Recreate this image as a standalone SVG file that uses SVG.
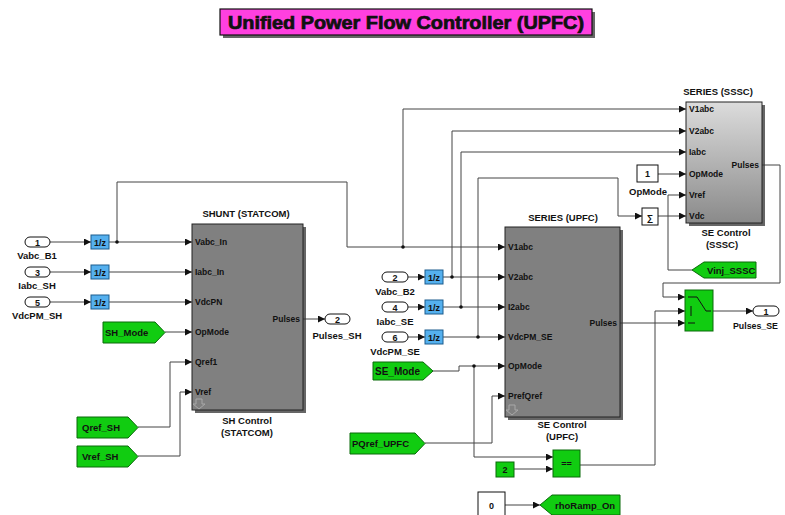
<svg xmlns="http://www.w3.org/2000/svg" width="785" height="515" viewBox="0 0 785 515">
<style>
text{font-family:"Liberation Sans",Arial,sans-serif;font-weight:bold;fill:#111}
.w{fill:none;stroke:#444;stroke-width:1}
.lbl{font-size:9.5px;text-anchor:middle}
.port{font-size:8.5px}
.z{fill:#55b0ee;stroke:#1d5d8d;stroke-width:1}
.g{fill:#11cc11;stroke:#0a6a0a;stroke-width:1}
.ov{fill:#fff;stroke:#111;stroke-width:1}
.blk{fill:#808080;stroke:#222;stroke-width:1}
.sh{fill:#333;opacity:.75}
.c{text-anchor:middle;font-size:9px}
</style>
<defs>
<marker id="a" viewBox="0 0 8 8" refX="8" refY="4" markerWidth="7" markerHeight="7" markerUnits="userSpaceOnUse" orient="auto"><path d="M0,0L8,4L0,8z" fill="#111"/></marker>
<linearGradient id="gr" x1="0" y1="0" x2="0" y2="1"><stop offset="0" stop-color="#dcdcdc"/><stop offset="1" stop-color="#8a8a8a"/></linearGradient>
</defs>

<g id="title">
<rect x="223" y="12" width="372" height="26" class="sh"/>
<rect x="220" y="9" width="372" height="26" fill="#ff40e0" stroke="#111" stroke-width="1.2"/>
<text x="406" y="28.5" text-anchor="middle" font-size="18" textLength="356" lengthAdjust="spacingAndGlyphs" stroke="#111" stroke-width="0.7">Unified Power Flow Controller (UPFC)</text>
</g>

<g id="connectors">
<path class="w" marker-end="url(#a)" d="M50,242H91"/>
<path class="w" marker-end="url(#a)" d="M50,272H91"/>
<path class="w" marker-end="url(#a)" d="M50,302H91"/>
<path class="w" marker-end="url(#a)" d="M109,242H192"/>
<path class="w" marker-end="url(#a)" d="M109,272H192"/>
<path class="w" marker-end="url(#a)" d="M109,302H192"/>
<path class="w" marker-end="url(#a)" d="M165,332H192"/>
<path class="w" marker-end="url(#a)" d="M138,427H170V362H192"/>
<path class="w" marker-end="url(#a)" d="M138,456H180V392H192"/>
<path class="w" marker-end="url(#a)" d="M117,242V182H347V247H505"/>
<path class="w" marker-end="url(#a)" d="M403,247V109H686"/>
<path class="w" marker-end="url(#a)" d="M303,319H325"/>
<path class="w" marker-end="url(#a)" d="M408,277H425"/>
<path class="w" marker-end="url(#a)" d="M408,307H425"/>
<path class="w" marker-end="url(#a)" d="M408,337H425"/>
<path class="w" marker-end="url(#a)" d="M443,277H505"/>
<path class="w" marker-end="url(#a)" d="M443,307H505"/>
<path class="w" marker-end="url(#a)" d="M443,337H505"/>
<path class="w" marker-end="url(#a)" d="M452,277V131H686"/>
<path class="w" marker-end="url(#a)" d="M461,307V152H686"/>
<path class="w" marker-end="url(#a)" d="M478,337V178H618V216H642"/>
<path class="w" marker-end="url(#a)" d="M658,216H686"/>
<path class="w" marker-end="url(#a)" d="M658,174H686"/>
<path class="w" marker-end="url(#a)" d="M692,270H668V195H686"/>
<path class="w" marker-end="url(#a)" d="M433,371H459V366H505"/>
<path class="w" marker-end="url(#a)" d="M474,366V457H553"/>
<path class="w" marker-end="url(#a)" d="M425,443H492V396H505"/>
<path class="w" marker-end="url(#a)" d="M514,469H553"/>
<path class="w" marker-end="url(#a)" d="M580,465H655V311H685"/>
<path class="w" marker-end="url(#a)" d="M762,165H780V283H663V297H685"/>
<path class="w" marker-end="url(#a)" d="M620,323H685"/>
<path class="w" marker-end="url(#a)" d="M713,311H753"/>
<path class="w" marker-end="url(#a)" d="M505,505H540"/>
<g fill="#111">
<circle cx="117" cy="242" r="1.8"/>
<circle cx="403" cy="247" r="1.8"/>
<circle cx="452" cy="277" r="1.8"/>
<circle cx="461" cy="307" r="1.8"/>
<circle cx="478" cy="337" r="1.8"/>
<circle cx="474" cy="366" r="1.8"/>
</g>
</g>

<g id="in1"><rect class="ov" x="25" y="237" width="25" height="10" rx="5"/><text x="37.5" y="245.5" class="c">1</text><text x="37" y="259" class="lbl">Vabc_B1</text></g>
<g id="in3"><rect class="ov" x="25" y="267" width="25" height="10" rx="5"/><text x="37.5" y="275.5" class="c">3</text><text x="37" y="289" class="lbl">Iabc_SH</text></g>
<g id="in5"><rect class="ov" x="25" y="297" width="25" height="10" rx="5"/><text x="37.5" y="305.5" class="c">5</text><text x="37" y="319" class="lbl">VdcPM_SH</text></g>

<g id="z1"><rect class="z" x="91" y="235" width="18" height="14"/><text x="100" y="245.5" class="c">1/z</text></g>
<g id="z3"><rect class="z" x="91" y="265" width="18" height="14"/><text x="100" y="275.5" class="c">1/z</text></g>
<g id="z5"><rect class="z" x="91" y="295" width="18" height="14"/><text x="100" y="305.5" class="c">1/z</text></g>

<g id="shmode"><path class="g" d="M103,322H155L165,332.5L155,343H103Z"/><text x="105" y="336" font-size="9.5">SH_Mode</text></g>
<g id="qrefsh"><path class="g" d="M77,417H128L138,427.5L128,438H77Z"/><text x="82" y="431" font-size="9.5">Qref_SH</text></g>
<g id="vrefsh"><path class="g" d="M77,446H128L138,456.5L128,467H77Z"/><text x="82" y="460" font-size="9.5">Vref_SH</text></g>

<g id="sh">
<text x="246" y="217" class="lbl" font-size="9">SHUNT (STATCOM)</text>
<rect class="sh" x="195" y="227" width="111" height="186"/>
<rect class="blk" x="192" y="224" width="111" height="186"/>
<g class="port"><text x="195" y="245">Vabc_In</text><text x="195" y="275">Iabc_In</text><text x="195" y="305">VdcPN</text><text x="195" y="335">OpMode</text><text x="195" y="365">Qref1</text><text x="195" y="395">Vref</text><text x="300" y="322" text-anchor="end">Pulses</text></g>
<path d="M196,399h6v5h3l-6,5l-6,-5h3z" fill="none" stroke="#a8a8a8" stroke-width="1"/>
<text x="247" y="424" class="lbl">SH Control</text><text x="247" y="436" class="lbl">(STATCOM)</text>
</g>

<g id="out2"><rect class="ov" x="325" y="314" width="25" height="10" rx="5"/><text x="337.5" y="322.5" class="c">2</text><text x="337" y="339" class="lbl">Pulses_SH</text></g>

<g id="in2"><rect class="ov" x="382" y="272" width="26" height="10" rx="5"/><text x="395" y="280.5" class="c">2</text><text x="395" y="295" class="lbl">Vabc_B2</text></g>
<g id="in4"><rect class="ov" x="382" y="302" width="26" height="10" rx="5"/><text x="395" y="310.5" class="c">4</text><text x="395" y="325" class="lbl">Iabc_SE</text></g>
<g id="in6"><rect class="ov" x="382" y="332" width="26" height="10" rx="5"/><text x="395" y="340.5" class="c">6</text><text x="395" y="355" class="lbl">VdcPM_SE</text></g>

<g id="z2"><rect class="z" x="425" y="270" width="18" height="14"/><text x="434" y="280.5" class="c">1/z</text></g>
<g id="z4"><rect class="z" x="425" y="300" width="18" height="14"/><text x="434" y="310.5" class="c">1/z</text></g>
<g id="z6"><rect class="z" x="425" y="330" width="18" height="14"/><text x="434" y="340.5" class="c">1/z</text></g>

<g id="semode"><path class="g" d="M373,362H423L433,371L423,380H373Z"/><text x="375" y="375" font-size="10">SE_Mode</text></g>
<g id="pqref"><path class="g" d="M350,433H415L425,443.5L415,454H350Z"/><text x="352" y="447" font-size="9.5">PQref_UPFC</text></g>

<g id="se">
<text x="563" y="221" class="lbl" font-size="9">SERIES (UPFC)</text>
<rect class="sh" x="508" y="230" width="115" height="190"/>
<rect class="blk" x="505" y="227" width="115" height="190"/>
<g class="port"><text x="508" y="250">V1abc</text><text x="508" y="280">V2abc</text><text x="508" y="310">I2abc</text><text x="508" y="340">VdcPM_SE</text><text x="508" y="369">OpMode</text><text x="508" y="399">PrefQref</text><text x="617" y="326" text-anchor="end">Pulses</text></g>
<path d="M509,405h6v5h3l-6,5l-6,-5h3z" fill="none" stroke="#a8a8a8" stroke-width="1"/>
<text x="562" y="428" class="lbl">SE Control</text><text x="562" y="440" class="lbl">(UPFC)</text>
</g>

<g id="eq"><rect class="g" x="553" y="450" width="27" height="27"/><text x="566.5" y="467" class="c">==</text></g>
<g id="const2"><rect class="g" x="496" y="462" width="18" height="15"/><text x="505" y="473" class="c">2</text></g>
<g id="const0"><rect fill="#fff" stroke="#111" x="478" y="492" width="27" height="26"/><text x="491.5" y="508.5" class="c">0</text></g>
<g id="rho"><path class="g" d="M540,505L552,495H620V515H552Z"/><text x="555" y="509" font-size="9.5">rhoRamp_On</text></g>

<g id="sssc">
<text x="718" y="95" class="lbl" font-size="9">SERIES (SSSC)</text>
<rect class="sh" x="689" y="105" width="76" height="121"/>
<rect x="686" y="102" width="76" height="121" fill="url(#gr)" stroke="#222"/>
<g class="port"><text x="689" y="112">V1abc</text><text x="689" y="134">V2abc</text><text x="689" y="155">Iabc</text><text x="689" y="177">OpMode</text><text x="689" y="198">Vref</text><text x="689" y="219">Vdc</text><text x="759" y="168" text-anchor="end">Pulses</text></g>
<text x="726" y="236" class="lbl">SE Control</text><text x="722" y="248" class="lbl">(SSSC)</text>
</g>

<g id="opm"><rect fill="#fff" stroke="#111" x="637" y="165" width="21" height="17"/><text x="647.5" y="177" class="c">1</text><text x="648" y="195" class="lbl">OpMode</text></g>
<g id="sum"><rect fill="#fff" stroke="#111" x="642" y="208" width="16" height="17"/><text x="650" y="221" class="c" font-weight="normal" font-size="12">∑</text></g>
<g id="vinj"><path class="g" d="M692,270L704,262H756V278H704Z"/><text x="707" y="273.5" font-size="9.5">Vinj_SSSC</text></g>

<g id="switch"><rect class="g" x="685" y="290" width="28" height="41"/>
<path d="M688,297H697L706,311H711M691,306V316M688,323H695" fill="none" stroke="#111" stroke-width="1"/></g>
<g id="out1"><rect class="ov" x="753" y="306" width="26" height="10" rx="5"/><text x="766" y="314.5" class="c">1</text><text x="733" y="329" font-size="9.5" textLength="45" lengthAdjust="spacingAndGlyphs">Pulses_SE</text></g>
</svg>
